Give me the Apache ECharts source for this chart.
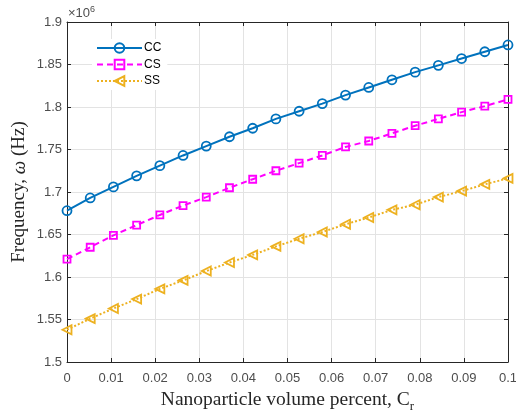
<!DOCTYPE html>
<html><head><meta charset="utf-8">
<script src="https://cdn.jsdelivr.net/npm/echarts@6/dist/echarts.min.js"></script>
<style>html,body{margin:0;padding:0;background:#fff}#c{width:516px;height:414px}</style>
</head><body><div id="c"></div>
<script>
const xValues = [0, 0.005263, 0.010526, 0.015789, 0.021053, 0.026316, 0.031579, 0.036842, 0.042105, 0.047368,
  0.052632, 0.057895, 0.063158, 0.068421, 0.073684, 0.078947, 0.084211, 0.089474, 0.094737, 0.1];
const ccValues = [1.678, 1.693, 1.706, 1.719, 1.731, 1.743, 1.754, 1.765, 1.775, 1.786,
  1.795, 1.804, 1.814, 1.823, 1.832, 1.841, 1.849, 1.857, 1.865, 1.873];
const csValues = [1.621, 1.635, 1.649, 1.661, 1.673, 1.684, 1.694, 1.705, 1.715, 1.725,
  1.734, 1.743, 1.753, 1.760, 1.769, 1.778, 1.786, 1.794, 1.801, 1.809];
const ssValues = [1.538, 1.551, 1.563, 1.574, 1.586, 1.596, 1.607, 1.617, 1.626, 1.636,
  1.645, 1.653, 1.662, 1.670, 1.679, 1.685, 1.694, 1.701, 1.709, 1.716];
const seriesNames = ['CC', 'CS', 'SS'];
const xTicks = ['0','0.01','0.02','0.03','0.04','0.05','0.06','0.07','0.08','0.09','0.1'];
const yTicks = ['1.5','1.55','1.6','1.65','1.7','1.75','1.8','1.85','1.9'];

const chart = echarts.init(document.getElementById('c'));
const axisColor = '#262626';
const gridColor = '#e3e3e3';
const sans = 'Liberation Sans, Arial, sans-serif';
const serif = 'Liberation Serif, Times New Roman, serif';
const tickFont = {color: '#4d4d4d', fontSize: 13, fontFamily: sans};
const pair = (xs, ys) => xs.map((x, i) => [x, ys[i]]);
function mk(name, data, color, type, symbol, rot) {
  return {
    name, type: 'line', data: pair(xValues, data), symbol, symbolSize: symbol === 'rect' ? 7 : 9,
    symbolRotate: rot || 0, showAllSymbol: true,
    lineStyle: {color, width: 2, type},
    itemStyle: {color: 'rgba(255,255,255,0)', borderColor: color, borderWidth: 1.8},
    emphasis: {disabled: true}, z: 3
  };
}
chart.setOption({
  animation: false,
  backgroundColor: '#fff',
  grid: {left: 67, right: 8, top: 22, bottom: 52, containLabel: false, outerBoundsMode: 'none'},
  legend: {
    orient: 'vertical', left: 92, top: 39, itemWidth: 45, itemHeight: 12, itemGap: 4.5,
    backgroundColor: '#fff', padding: [3, 6, 3, 4],
    textStyle: {color: '#000', fontSize: 12, fontFamily: sans, padding: [0, 0, 0, -3]},
    data: seriesNames
  },
  xAxis: [{
    type: 'value', min: 0, max: 0.1, interval: 0.01,
    axisLine: {onZero: false, lineStyle: {color: axisColor, width: 1}},
    axisTick: {inside: true, length: 4, lineStyle: {color: axisColor}},
    axisLabel: Object.assign({margin: 10, formatter: v => xTicks[Math.round(v * 100)]}, tickFont),
    splitLine: {show: true, lineStyle: {color: gridColor}},
    name: 'Nanoparticle volume percent, C{s|r}', nameLocation: 'middle', nameGap: 22,
    nameTextStyle: {fontFamily: serif, fontSize: 19.5, color: '#262626',
      rich: {s: {fontFamily: serif, fontSize: 13, color: '#262626', padding: [13, 0, 0, 0]}}}
  }, {
    type: 'value', min: 0, max: 0.1, interval: 0.01, position: 'top',
    axisLine: {onZero: false, lineStyle: {color: axisColor, width: 1}},
    axisTick: {inside: true, length: 4, lineStyle: {color: axisColor}},
    axisLabel: {show: false}, splitLine: {show: false}
  }],
  yAxis: [{
    type: 'value', min: 1.5, max: 1.9, interval: 0.05,
    axisLine: {show: true, onZero: false, lineStyle: {color: axisColor, width: 1}},
    axisTick: {show: true, inside: true, length: 4, lineStyle: {color: axisColor}},
    axisLabel: Object.assign({margin: 5, formatter: v => yTicks[Math.round((v - 1.5) / 0.05)]}, tickFont),
    splitLine: {show: true, lineStyle: {color: gridColor}},
    name: 'Frequency, {i|ω} (Hz)', nameLocation: 'middle', nameGap: 38, nameMoveOverlap: false,
    nameTextStyle: {fontFamily: serif, fontSize: 19, color: '#262626',
      rich: {i: {fontFamily: serif, fontStyle: 'italic', fontSize: 19, color: '#262626'}}}
  }, {
    type: 'value', min: 1.5, max: 1.9, interval: 0.05, position: 'right',
    axisLine: {show: true, onZero: false, lineStyle: {color: axisColor, width: 1}},
    axisTick: {show: true, inside: true, length: 4, lineStyle: {color: axisColor}},
    axisLabel: {show: false}, splitLine: {show: false}
  }],
  graphic: [{
    type: 'text', left: 68, top: 5,
    style: {text: '×10{s|6}', fill: '#4d4d4d', font: '13px Liberation Sans, Arial, sans-serif',
      rich: {s: {fontSize: 9, fill: '#4d4d4d', padding: [0, 0, 8, 0]}}}
  }],
  series: [
    mk(seriesNames[0], ccValues, '#0072BD', 'solid', 'circle'),
    mk(seriesNames[1], csValues, '#FF00FF', [6, 4], 'rect'),
    mk(seriesNames[2], ssValues, '#EDB120', [2, 2], 'triangle', 90)
  ]
});
</script></body></html>
